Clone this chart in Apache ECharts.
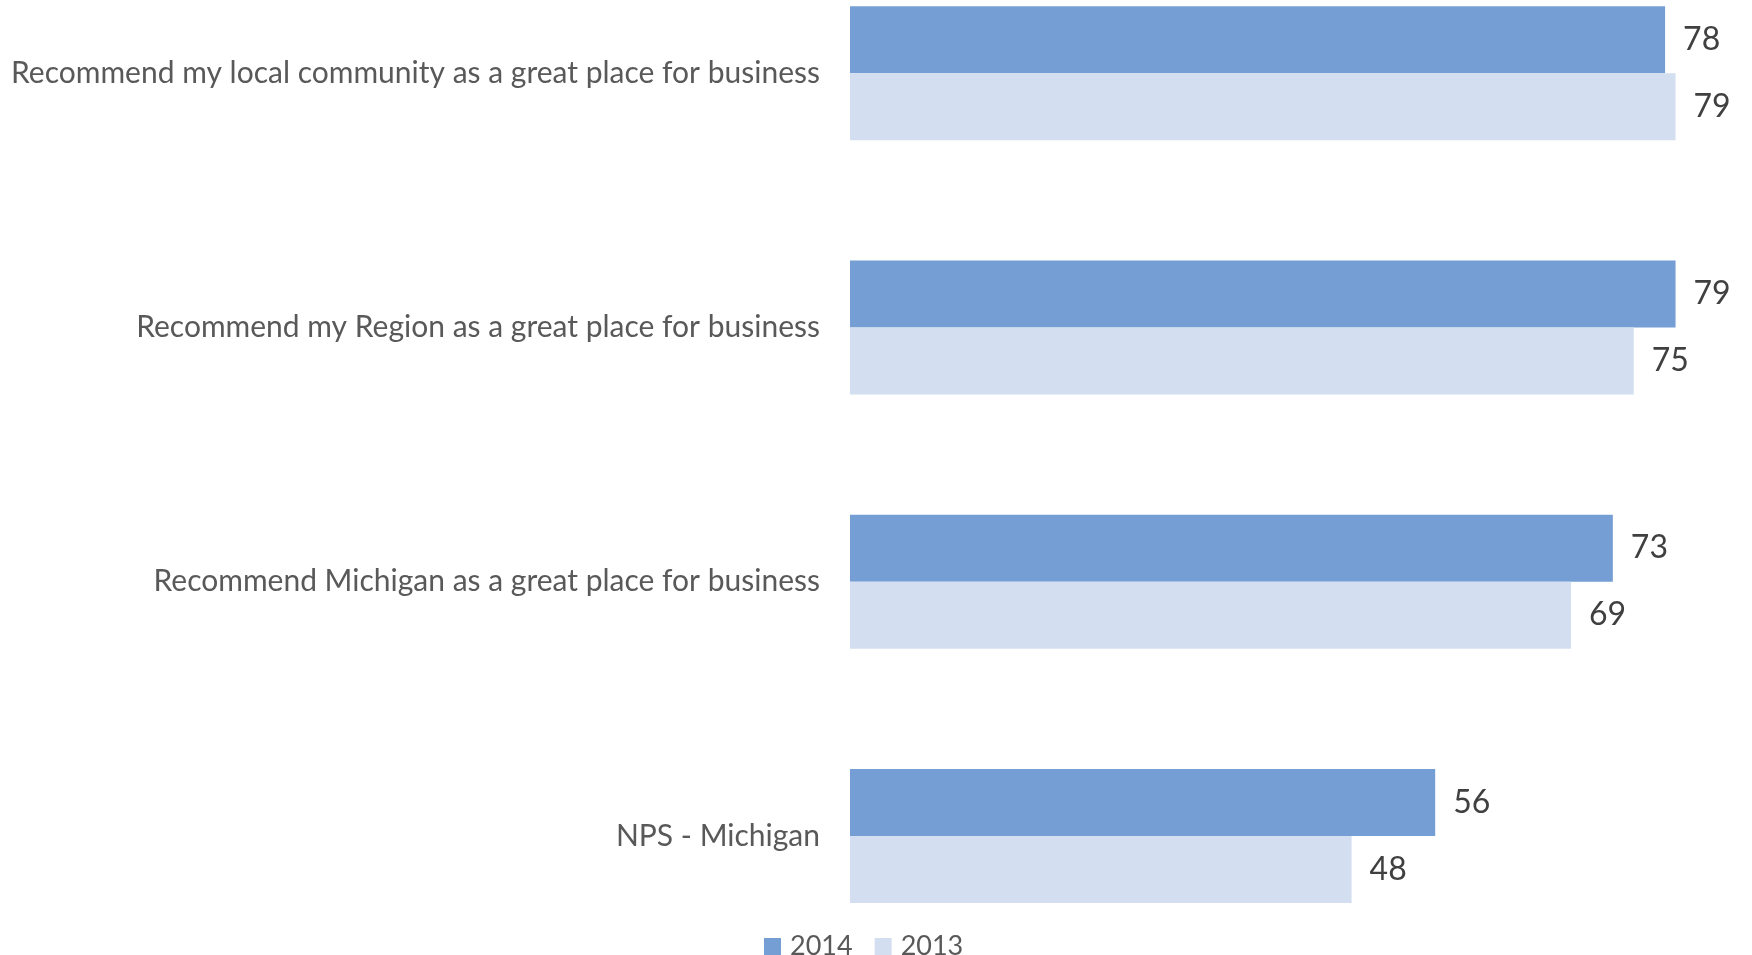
<!DOCTYPE html>
<html>
<head>
<meta charset="utf-8">
<script src="https://cdn.jsdelivr.net/npm/echarts@6/dist/echarts.min.js"></script>
<style>
  html, body { margin: 0; padding: 0; background: #fff; }
  #chart { width: 1752px; height: 955px; }
</style>
</head>
<body>
<div id="chart"></div>
<script>
// categories, top to bottom
const categories = [
  'Recommend my local community as a great place for business',
  'Recommend my Region as a great place for business',
  'Recommend Michigan as a great place for business',
  'NPS - Michigan'
];
const values2014 = [78, 79, 73, 56];
const values2013 = [79, 75, 69, 48];

const chart = echarts.init(document.getElementById('chart'));

const labelStyle = {
  show: true,
  position: 'right',
  distance: 18,
  fontFamily: 'Lato, "Open Sans", sans-serif',
  fontSize: 32,
  color: '#404040'
};

chart.setOption({
  animation: false,
  textStyle: { fontFamily: 'Lato, "Open Sans", sans-serif' },
  grid: { left: 850, right: 66, top: -54, bottom: -8, outerBoundsMode: 'none' },
  legend: {
    data: ['2014', '2013'],
    top: 928,
    left: 759,
    itemWidth: 17,
    itemHeight: 17,
    itemGap: 22,
    icon: 'rect',
    textStyle: { fontSize: 27, color: '#595959', padding: [0, 0, 0, 4] }
  },
  xAxis: {
    type: 'value',
    min: 0,
    max: 80,
    show: false
  },
  yAxis: {
    type: 'category',
    data: categories,
    inverse: true,
    axisLine: { show: false },
    axisTick: { show: false },
    axisLabel: { fontSize: 30, color: '#595959', margin: 30 }
  },
  series: [
    {
      name: '2014',
      type: 'bar',
      data: values2014,
      barWidth: 67,
      barGap: '0%',
      itemStyle: { color: '#759fd4' },
      label: labelStyle
    },
    {
      name: '2013',
      type: 'bar',
      data: values2013,
      barWidth: 67,
      barGap: '0%',
      itemStyle: { color: '#d3dff0' },
      label: labelStyle
    }
  ]
});
</script>
</body>
</html>
